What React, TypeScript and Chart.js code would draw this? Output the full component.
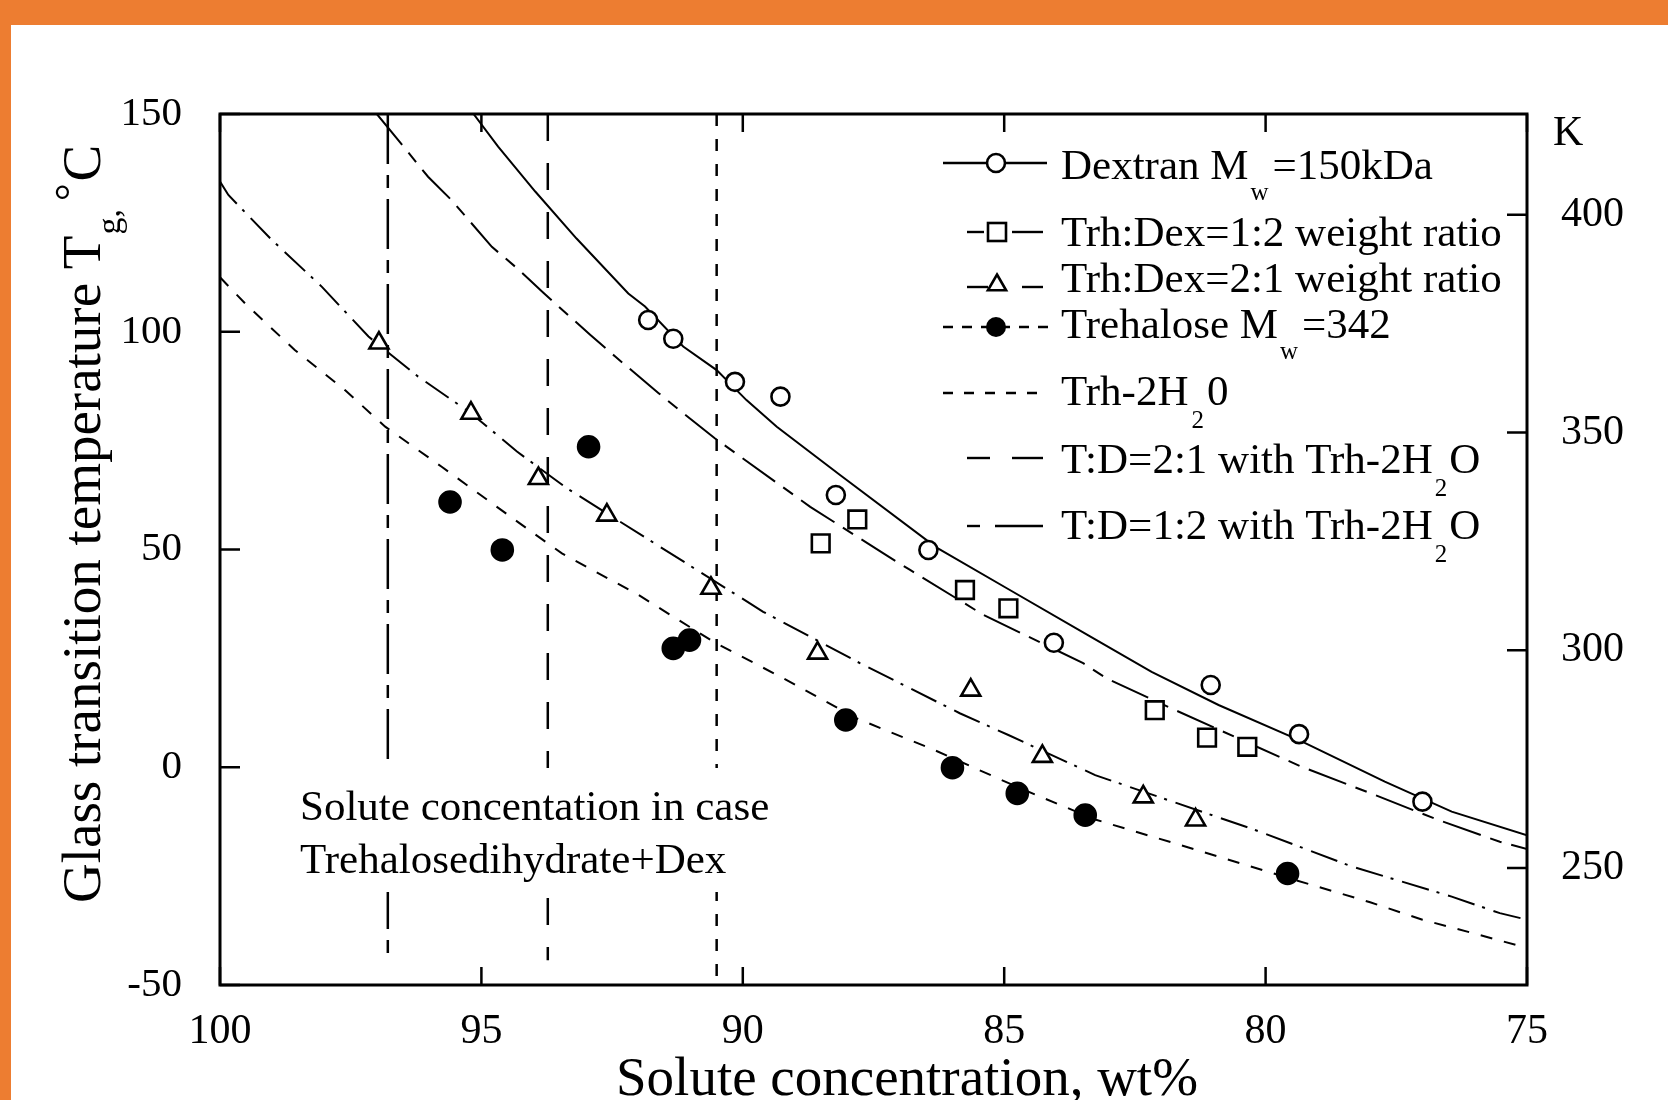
import React, { useEffect, useRef } from "react";
import { Chart, registerables } from "chart.js";

Chart.register(...registerables);

const SERIF = "'Liberation Serif', 'Times New Roman', Times, serif";

// ---- axis ticks ----
const concTicks = [75, 80, 85, 90, 95, 100];
const tempTicks = [-50, 0, 50, 100, 150];
const kelvinTicks = [250, 300, 350, 400];

// ---- measured Tg points (wt%, °C) ----
const dextranConc = [91.81, 91.33, 90.15, 89.28, 88.22, 86.45, 84.05, 81.05, 79.36, 77.0];
const dextranTg = [102.7, 98.4, 88.5, 85.1, 62.5, 49.9, 28.6, 18.9, 7.6, -7.9];

const td12Conc = [88.51, 87.81, 85.75, 84.92, 82.12, 81.12, 80.35];
const td12Tg = [51.4, 56.9, 40.7, 36.5, 13.1, 6.8, 4.7];

const td21Conc = [96.96, 95.2, 93.91, 92.6, 90.61, 88.57, 85.64, 84.27, 82.34, 81.34];
const td21Tg = [97.4, 81.3, 66.3, 57.9, 41.1, 26.2, 17.7, 2.5, -6.8, -12.1];

const trhConc = [95.6, 94.6, 92.95, 91.33, 91.02, 88.03, 85.99, 84.75, 83.45, 79.58];
const trhTg = [60.9, 49.9, 73.6, 27.3, 29.2, 10.85, -0.1, -6.0, -11.0, -24.4];

// ---- fitted curves ----
const dextranFitConc = [95.15, 94.68, 93.97, 93.18, 92.19, 91.87, 91.14, 90.5, 89.93, 89.35, 88.14, 86.3, 84.95, 83.35, 82.18, 80.9, 79.37, 77.72, 76.44, 75.0];
const dextranFitTg = [150, 142.5, 132.2, 121.4, 108.8, 105.8, 96.6, 91.2, 84.3, 78.2, 67.1, 50.5, 41.1, 30.0, 21.9, 14.3, 6.3, -3.3, -10.2, -15.6];

const td12FitConc = [97.0, 96.02, 95.57, 94.8, 94.32, 93.82, 92.92, 92.44, 91.61, 91.14, 90.53, 90.09, 88.71, 87.31, 86.8, 85.4, 83.49, 83.04, 81.8, 79.31, 77.9, 76.7, 75.52, 75.0];
const td12FitTg = [150, 135.6, 130.2, 119.5, 114.6, 109.0, 99.3, 94.3, 85.9, 81.3, 75.5, 71.7, 59.8, 49.1, 45.3, 35.0, 23.9, 20.4, 13.5, 0.1, -6.4, -12.1, -17.1, -18.8];

const td21FitConc = [100, 99.84, 99.01, 98.05, 97.16, 96.21, 95.2, 94.32, 93.37, 91.58, 89.61, 87.76, 85.85, 84.92, 83.26, 80.2, 78.35, 76.44, 75.52, 75.0];
const td21FitTg = [134.5, 131.4, 121.1, 110.3, 98.9, 89.7, 81.3, 72.5, 64.1, 50.6, 35.7, 23.9, 12.4, 7.4, -1.8, -14.4, -22.8, -29.7, -33.5, -35.0];

const trhFitConc = [100, 99.52, 98.57, 97.61, 96.84, 95.76, 94.36, 93.46, 92.0, 90.56, 89.22, 87.82, 86.42, 84.7, 83.26, 81.73, 79.6, 78.0, 77.0, 76.0, 75.0];
const trhFitTg = [112.5, 106.5, 95.8, 86.6, 78.2, 69.0, 56.8, 49.1, 39.6, 28.8, 20.4, 11.2, 4.4, -4.8, -12.0, -17.5, -25.3, -31.0, -35.0, -38.2, -41.5];

// ---- dihydrate reference concentrations (vertical lines) ----
const hydrateConc = [90.5, 93.73, 96.79];
const hydrateTop = [150, 150, 150];
const hydrateBottom = [-50, -44.3, -44.3];

// ---- texts ----
const annotationLines = ["Solute concentation in case", "Trehalosedihydrate+Dex"];
const xTitle = "Solute concentration, wt%";

const pts = (xs: number[], ys: number[]) => xs.map((x, i) => ({ x, y: ys[i] }));

type Part = { text: string; size: number; dy?: number; gap?: number };

function drawRich(ctx: CanvasRenderingContext2D, x: number, y: number, parts: Part[]) {
  let cx = x;
  for (const p of parts) {
    ctx.font = `${p.size}px ${SERIF}`;
    cx += p.gap || 0;
    ctx.fillText(p.text, cx, y + (p.dy || 0));
    cx += ctx.measureText(p.text).width;
  }
}

const L = 43; // legend font
const S = 25; // legend subscript font

const legendRows: { lineY: number; textY: number; kind: string; parts: Part[] }[] = [
  { lineY: 163, textY: 179, kind: "dextran", parts: [{ text: "Dextran M", size: L }, { text: "w", size: S, dy: 21, gap: 2 }, { text: "=150kDa", size: L, gap: 4 }] },
  { lineY: 232, textY: 246, kind: "td12", parts: [{ text: "Trh:Dex=1:2 weight ratio", size: L }] },
  { lineY: 287, textY: 292, kind: "td21", parts: [{ text: "Trh:Dex=2:1 weight ratio", size: L }] },
  { lineY: 327, textY: 338, kind: "trh", parts: [{ text: "Trehalose M", size: L }, { text: "w", size: S, dy: 21, gap: 2 }, { text: "=342", size: L, gap: 4 }] },
  { lineY: 393, textY: 405, kind: "hyd", parts: [{ text: "Trh-2H", size: L }, { text: "2", size: S, dy: 23, gap: 3 }, { text: "0", size: L, gap: 3 }] },
  { lineY: 458, textY: 473, kind: "hyd21", parts: [{ text: "T:D=2:1 with Trh-2H", size: L }, { text: "2", size: S, dy: 23, gap: 2 }, { text: "O", size: L, gap: 2 }] },
  { lineY: 526, textY: 539, kind: "hyd12", parts: [{ text: "T:D=1:2 with Trh-2H", size: L }, { text: "2", size: S, dy: 23, gap: 2 }, { text: "O", size: L, gap: 2 }] },
];

function seg(ctx: CanvasRenderingContext2D, x1: number, x2: number, y: number, dash: number[] = []) {
  ctx.save();
  ctx.setLineDash(dash);
  ctx.beginPath();
  ctx.moveTo(x1, y);
  ctx.lineTo(x2, y);
  ctx.stroke();
  ctx.restore();
}

function drawLegendSample(ctx: CanvasRenderingContext2D, kind: string, y: number) {
  ctx.strokeStyle = "#000";
  ctx.lineWidth = 2.4;
  if (kind === "dextran") {
    seg(ctx, 943, 1047, y);
    ctx.beginPath();
    ctx.arc(996, y, 9, 0, Math.PI * 2);
    ctx.fillStyle = "#fff";
    ctx.fill();
    ctx.lineWidth = 2.6;
    ctx.stroke();
  } else if (kind === "td12") {
    seg(ctx, 967, 984, y);
    seg(ctx, 1012, 1043, y);
    ctx.lineWidth = 2.6;
    ctx.strokeRect(988, y - 9, 18, 18);
  } else if (kind === "td21") {
    seg(ctx, 967, 988, y);
    seg(ctx, 1022, 1043, y);
    const r = 10.5;
    const cx = 997;
    const cy = y - 2;
    ctx.lineWidth = 2.6;
    ctx.beginPath();
    ctx.moveTo(cx, cy - r);
    ctx.lineTo(cx + 0.866 * r, cy + 0.5 * r);
    ctx.lineTo(cx - 0.866 * r, cy + 0.5 * r);
    ctx.closePath();
    ctx.fillStyle = "#fff";
    ctx.fill();
    ctx.stroke();
  } else if (kind === "trh") {
    seg(ctx, 943, 1049, y, [10, 9]);
    ctx.beginPath();
    ctx.arc(996, y, 10, 0, Math.PI * 2);
    ctx.fillStyle = "#000";
    ctx.fill();
  } else if (kind === "hyd") {
    seg(ctx, 943, 1047, y, [10, 11]);
  } else if (kind === "hyd21") {
    seg(ctx, 967, 990, y);
    seg(ctx, 1012, 1043, y);
  } else if (kind === "hyd12") {
    seg(ctx, 967, 980, y);
    seg(ctx, 995, 1043, y);
  }
}

const decorPlugin = {
  id: "figureDecor",
  afterDatasetsDraw(chart: any) {
    const ctx: CanvasRenderingContext2D = chart.ctx;
    ctx.save();
    ctx.fillStyle = "#fff";
    ctx.fillRect(292, 768, 490, 124);
    ctx.fillStyle = "#000";
    ctx.font = `43px ${SERIF}`;
    ctx.textAlign = "left";
    ctx.textBaseline = "alphabetic";
    ctx.fillText(annotationLines[0], 300, 820);
    ctx.fillText(annotationLines[1], 300, 873);
    ctx.restore();
  },
  afterDraw(chart: any) {
    const ctx: CanvasRenderingContext2D = chart.ctx;
    const a = chart.chartArea;
    const sx = chart.scales.x;
    const sy = chart.scales.y;
    const sk = chart.scales.yK;
    ctx.save();
    ctx.strokeStyle = "#000";
    ctx.lineCap = "butt";
    // frame
    ctx.lineWidth = 3;
    ctx.strokeRect(a.left, a.top, a.right - a.left, a.bottom - a.top);
    // inward ticks
    ctx.lineWidth = 2.5;
    ctx.beginPath();
    for (const v of concTicks) {
      const px = sx.getPixelForValue(v);
      ctx.moveTo(px, a.bottom);
      ctx.lineTo(px, a.bottom - 18);
      ctx.moveTo(px, a.top);
      ctx.lineTo(px, a.top + 18);
    }
    for (const v of tempTicks) {
      const py = sy.getPixelForValue(v);
      ctx.moveTo(a.left, py);
      ctx.lineTo(a.left + 20, py);
    }
    for (const v of kelvinTicks) {
      const py = sk.getPixelForValue(v);
      ctx.moveTo(a.right, py);
      ctx.lineTo(a.right - 20, py);
    }
    ctx.stroke();

    // legend
    ctx.textAlign = "left";
    ctx.textBaseline = "alphabetic";
    for (const row of legendRows) {
      drawLegendSample(ctx, row.kind, row.lineY);
      ctx.fillStyle = "#000";
      drawRich(ctx, 1061, row.textY, row.parts);
    }

    // K label
    ctx.fillStyle = "#000";
    ctx.font = `42px ${SERIF}`;
    ctx.fillText("K", 1553, 145);

    // x title
    ctx.textAlign = "center";
    ctx.font = `55px ${SERIF}`;
    ctx.fillText(xTitle, 907, 1095);

    // y title (rotated)
    ctx.textAlign = "left";
    ctx.translate(100, 903);
    ctx.rotate(-Math.PI / 2);
    drawRich(ctx, 0, 0, [
      { text: "Glass transition temperature T", size: 55 },
      { text: "g", size: 34, dy: 20, gap: 1 },
      { text: ",", size: 34, dy: 20 },
      { text: "°", size: 44, dy: -15, gap: 8 },
      { text: "C", size: 55, gap: 2 },
    ]);
    ctx.restore();
  },
};

const lineDs = (xs: number[], ys: number[], dash: number[], width = 2) => ({
  data: pts(xs, ys),
  showLine: true,
  pointRadius: 0,
  borderColor: "#000",
  borderWidth: width,
  borderDash: dash,
  fill: false,
  tension: 0,
  order: 2,
});

const vLine = (i: number, dash: number[]) => ({
  data: [
    { x: hydrateConc[i], y: hydrateTop[i] },
    { x: hydrateConc[i], y: hydrateBottom[i] },
  ],
  showLine: true,
  pointRadius: 0,
  borderColor: "#000",
  borderWidth: 2.5,
  borderDash: dash,
  fill: false,
  order: 3,
});

const markerDs = (xs: number[], ys: number[], style: string, radius: number, fill: string) => ({
  data: pts(xs, ys),
  showLine: false,
  pointStyle: style,
  pointRadius: radius,
  pointBackgroundColor: fill,
  pointBorderColor: "#000",
  pointBorderWidth: 2.6,
  order: 0,
});

export default function App() {
  const ref = useRef<HTMLCanvasElement>(null);

  useEffect(() => {
    const canvas = ref.current;
    if (!canvas) return;
    const chart = new Chart(canvas, {
      type: "scatter",
      data: {
        datasets: [
          markerDs(dextranConc, dextranTg, "circle", 9, "#fff"),
          markerDs(td12Conc, td12Tg, "rect", 12.5, "#fff"),
          markerDs(td21Conc, td21Tg, "triangle", 11, "#fff"),
          markerDs(trhConc, trhTg, "circle", 10.5, "#000"),
          lineDs(dextranFitConc, dextranFitTg, []),
          lineDs(td12FitConc, td12FitTg, [40, 10, 12, 10]),
          lineDs(td21FitConc, td21FitTg, [28, 8, 3, 9]),
          lineDs(trhFitConc, trhFitTg, [12, 12]),
          vLine(0, [12, 13]),
          vLine(1, [27, 22]),
          vLine(2, [50, 11, 13, 11]),
        ] as any,
      },
      options: {
        responsive: false,
        animation: false,
        devicePixelRatio: 1,
        layout: { padding: { top: 114, left: 0, right: 0, bottom: 0 } },
        plugins: {
          legend: { display: false },
          tooltip: { enabled: false },
          title: { display: false },
        },
        scales: {
          x: {
            type: "linear",
            position: "bottom",
            min: 75,
            max: 100,
            reverse: true,
            grid: { display: false, drawTicks: false },
            border: { display: false },
            ticks: {
              color: "#000",
              font: { family: SERIF, size: 42 },
              padding: 22,
              maxRotation: 0,
              autoSkip: false,
            },
            afterBuildTicks: (s: any) => {
              s.ticks = concTicks.map((v) => ({ value: v }));
            },
            afterFit: (s: any) => {
              s.height = 115;
            },
          },
          y: {
            type: "linear",
            position: "left",
            min: -50,
            max: 150,
            grid: { display: false, drawTicks: false },
            border: { display: false },
            ticks: {
              color: "#000",
              font: { family: SERIF, size: 41 },
              padding: 38,
              autoSkip: false,
            },
            afterBuildTicks: (s: any) => {
              s.ticks = tempTicks.map((v) => ({ value: v }));
            },
            afterFit: (s: any) => {
              s.width = 220;
            },
          },
          yK: {
            type: "linear",
            position: "right",
            min: 223.15,
            max: 423.15,
            grid: { display: false, drawTicks: false },
            border: { display: false },
            ticks: {
              color: "#000",
              font: { family: SERIF, size: 42 },
              padding: 34,
              autoSkip: false,
            },
            afterBuildTicks: (s: any) => {
              s.ticks = kelvinTicks.map((v) => ({ value: v }));
            },
            afterFit: (s: any) => {
              s.width = 141;
            },
          },
        },
      } as any,
      plugins: [decorPlugin as any],
    });
    return () => chart.destroy();
  }, []);

  return (
    <div
      style={{
        position: "fixed",
        left: 0,
        top: 0,
        width: 1668,
        height: 1100,
        background: "#ED7D31",
        overflow: "hidden",
      }}
    >
      <div style={{ position: "absolute", left: 11, top: 25, right: 0, bottom: 0, background: "#fff" }} />
      <canvas
        ref={ref}
        width={1668}
        height={1100}
        style={{ position: "absolute", left: 0, top: 0, width: 1668, height: 1100 }}
      />
    </div>
  );
}
